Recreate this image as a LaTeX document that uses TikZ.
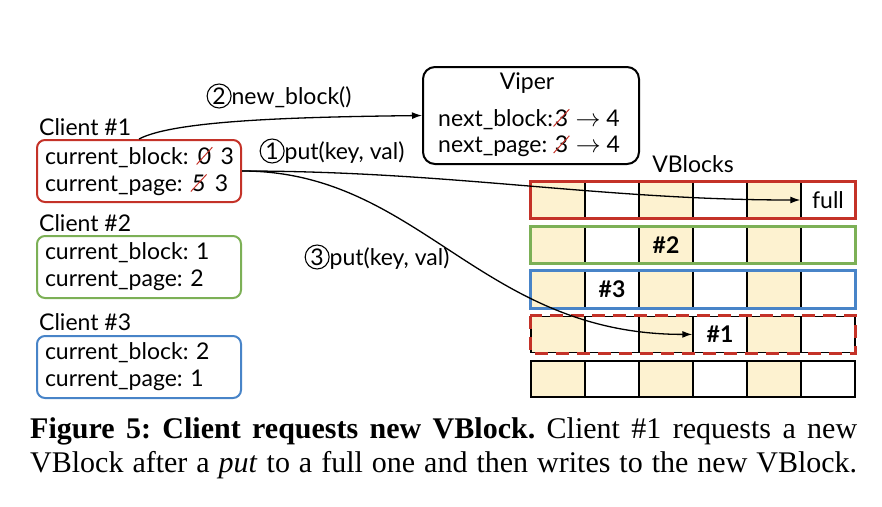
\documentclass[tikz,border=0pt]{standalone}
\usepackage{fontspec}
\setmainfont{Liberation Serif}
\newfontfamily\dfont{Lato}
\usetikzlibrary{arrows.meta}
\frenchspacing
\definecolor{cred}{RGB}{196,50,40}
\definecolor{cgreen}{RGB}{124,176,86}
\definecolor{cblue}{RGB}{72,132,200}
\definecolor{cyel}{RGB}{253,242,208}
\newcommand\xo[1]{\tikz[baseline=(s.base)]{\node[inner sep=0pt,text width={},align=center,minimum size=0pt](s){#1}; \draw[cred,line width=1pt] ([xshift=-1pt]s.south west) -- ([xshift=1pt]s.north east);}}
\newcommand\cn[1]{\tikz[baseline=(n.base)]\node[draw,circle,line width=1.1pt,minimum size=24pt,inner sep=0pt,text width={}](n){#1};}
\begin{document}
\begin{tikzpicture}[x=1pt,y=-1pt,font=\dfont\fontsize{23}{27}\selectfont\frenchspacing,
  txt/.style={inner sep=0pt},
  cbox/.style={draw,line width=2pt,rounded corners=8pt,minimum width=204pt,minimum height=62pt,text width=194pt,inner xsep=5pt,inner ysep=0pt,align=left},
  cell/.style={draw=black,line width=1.5pt,minimum width=54pt,minimum height=36pt,inner sep=0pt},
  conn/.style={line width=1.3pt,-{Latex[length=10pt,width=7pt]}},
  lbl/.style={inner sep=0pt},
  captxt/.style={anchor=base west,inner sep=0pt,font=\rmfamily\fontsize{30}{34}\selectfont\frenchspacing}]
\useasboundingbox (0,0) rectangle (882,506);
% clients
\node[txt,anchor=west] (t1) at (39,127) {Client \#1};
\node[cbox,draw=cred] (c1) at (139,171) {\hspace*{3pt}current\_block: \xo{0} 3\\\hspace*{3pt}current\_page: \xo{5} 3};
\node[txt,anchor=west] (t2) at (39,223) {Client \#2};
\node[cbox,draw=cgreen] (c2) at (139,267) {\hspace*{3pt}current\_block: 1\\\hspace*{3pt}current\_page: 2};
\node[txt,anchor=west] (t3) at (39,322) {Client \#3};
\node[cbox,draw=cblue] (c3) at (139,367) {\hspace*{3pt}current\_block: 2\\\hspace*{3pt}current\_page: 1};
% viper
\node[draw,line width=2pt,rounded corners=12pt,minimum width=216pt,minimum height=97pt] (viper) at (531,115.5) {};
\node[txt] (vt) at (527,83) {Viper};
\node[txt,anchor=west] (v1) at (438,119) {next\_block:\xo{3} $\rightarrow$ 4};
\node[txt,anchor=west] (v2) at (438,146) {next\_page: \xo{3} $\rightarrow$ 4};
\node[txt] (vb) at (693,164) {VBlocks};
% grid
\foreach \r in {0,...,4}{
  \foreach \c in {0,2,4}{\node[cell,fill=cyel] (r\r c\c) at ({558+54*\c},{200+44.8*\r}) {};}
  \foreach \c in {1,3,5}{\node[cell,fill=white] (r\r c\c) at ({558+54*\c},{200+44.8*\r}) {};}
}
\draw[cred,line width=3pt] (r0c0.north west) rectangle (r0c5.south east);
\draw[cgreen,line width=3pt] (r1c0.north west) rectangle (r1c5.south east);
\draw[cblue,line width=3pt] (r2c0.north west) rectangle (r2c5.south east);
\draw[cred,line width=3pt,dash pattern=on 13pt off 8pt] (r3c0.north west) rectangle (r3c5.south east);
\node[txt] at (r0c5) {full};
\node[txt,font=\dfont\bfseries\fontsize{23}{27}\selectfont] at (r1c2) {\#2};
\node[txt,font=\dfont\bfseries\fontsize{23}{27}\selectfont] at (r2c1) {\#3};
\node[txt,font=\dfont\bfseries\fontsize{23}{27}\selectfont] at (r3c3) {\#1};
% connectors
\draw[conn] (c1.east) .. controls (450,171) and (600,200) .. (r0c5.west);
\draw[conn] (c1.east) .. controls (420,171) and (480,334.4) .. (r3c3.west);
\draw[conn] (c1.north) .. controls (175,120) and (300,117) .. (viper.west);
\node[lbl] (l2) at (279,96) {\cn{2}new\_block()};
\node[lbl] (l1) at (332,151) {\cn{1}put(key, val)};
\node[lbl] (l3) at (377,257) {\cn{3}put(key, val)};
% caption
\node[captxt] (cap1) at (30,438) {\makebox[827pt][s]{\textbf{Figure 5: Client requests new VBlock.} Client \#1 requests a new}};
\node[captxt] (cap2) at (30,472) {\makebox[827pt][s]{VBlock after a \textit{put} to a full one and then writes to the new VBlock.}};
\end{tikzpicture}
\end{document}
